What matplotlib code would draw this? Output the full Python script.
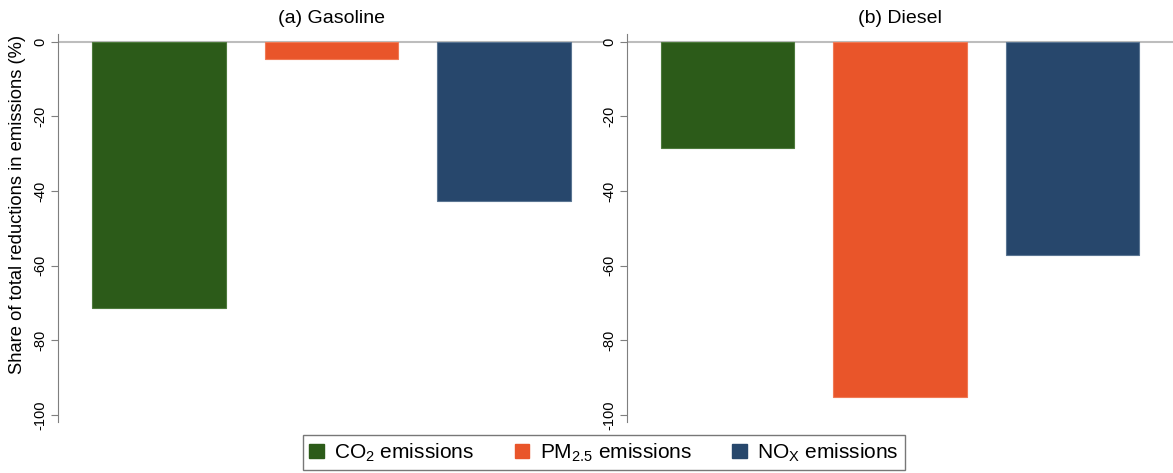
import matplotlib
matplotlib.use("Agg")
from matplotlib import pyplot as plt
from matplotlib.patches import Patch

plt.rcParams["font.family"] = ["Liberation Sans", "DejaVu Sans"]
plt.rcParams["mathtext.default"] = "regular"

# share of total reductions in emissions (%)
pollutants = ["CO$_2$ emissions", "PM$_{2.5}$ emissions", "NO$_X$ emissions"]
gasoline = [-71.4, -4.6, -42.6]
diesel = [-28.4, -95.2, -57.1]
panel_titles = ["(a) Gasoline", "(b) Diesel"]
yticks = [0, -20, -40, -60, -80, -100]

colors = ["#2c5b19", "#e9552a", "#27476c"]
edge = ["#4d7a3c", "#f07a55", "#5a7592"]

fig = plt.figure(figsize=(11.73, 4.73), dpi=100)
W, H = 1173, 473
ax1 = fig.add_axes([58 / W, 1 - 421.7 / H, 547 / W, 387.7 / H])
ax2 = fig.add_axes([627 / W, 1 - 421.7 / H, 546 / W, 387.7 / H])

for ax, vals, title in zip([ax1, ax2], [gasoline, diesel], panel_titles):
    ax.axhline(0, color="#bdbdbd", lw=1.5, zorder=1)
    ax.bar(range(3), vals, width=0.775, color=colors, edgecolor=edge,
           linewidth=0.8, zorder=2)
    ax.set_xlim(-0.584, 2.584)
    ax.set_ylim(-101.8, 2.1)
    ax.set_xticks([])
    ax.set_yticks(yticks)
    ax.set_yticklabels([str(t) for t in yticks], rotation=90, va="center",
                       fontsize=10.5)
    ax.tick_params(axis="y", length=5, width=0.8, color="#7f7f7f", pad=3)
    for s in ["top", "right", "bottom"]:
        ax.spines[s].set_visible(False)
    ax.spines["left"].set_color("#7f7f7f")
    ax.spines["left"].set_linewidth(0.8)
    ax.set_title(title, fontsize=14, pad=8)

ax1.set_ylabel("Share of total reductions in emissions (%)", fontsize=13.2)
ax1.yaxis.set_label_coords(-0.058, 0.56)

handles = [Patch(facecolor=c, edgecolor=c) for c in colors]
fig.legend(handles, pollutants, loc="center", bbox_to_anchor=(604 / W, 1 - 452.5 / H),
           ncol=3, fontsize=15, frameon=True, fancybox=False, edgecolor="#555555",
           handlelength=0.7, handleheight=0.7, handletextpad=0.5, columnspacing=1.95,
           borderpad=0.3)

plt.savefig("out.png", dpi=100)
